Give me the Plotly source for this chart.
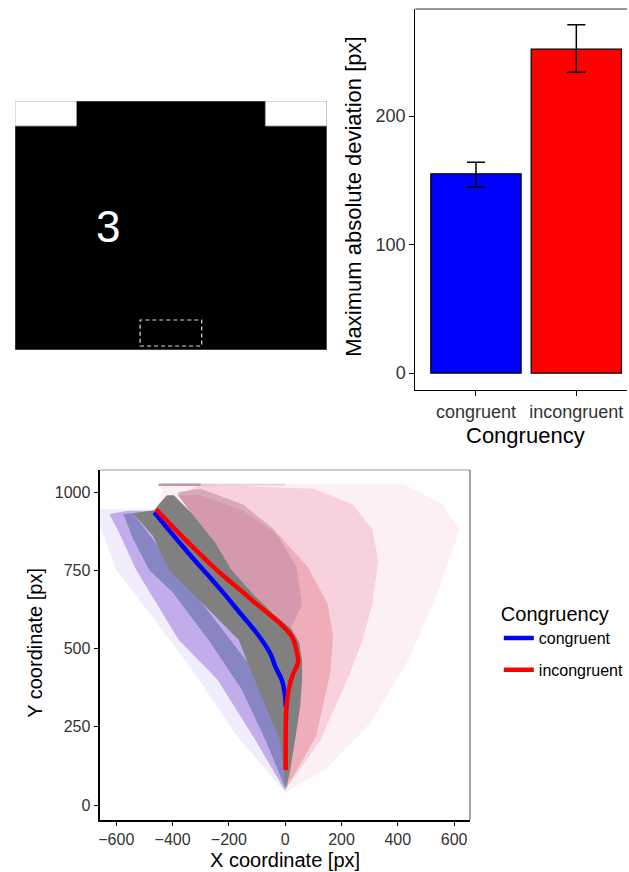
import plotly.graph_objects as go

FONT = "Liberation Sans, Arial, sans-serif"

# ---------------- Bar chart data ----------------
CATEGORIES = ["congruent", "incongruent"]
MAD_MEAN = [155, 252]
MAD_ERR_UP = [9, 19]
MAD_ERR_DOWN = [10, 18]
BAR_COLORS = ["#0000FF", "#FF0000"]

# ---------------- Mean trajectories ----------------
CONG_X = [-465, -410, -353, -305, -259, -230, -200, -159, -100, -53, -35, -12, 0, 2]
CONG_Y = [935, 875, 815, 765, 719, 689, 657, 612, 548, 484, 442, 399, 346, 314]
INC_X = [-459, -390, -318, -260, -200, -150, -115, -60, -18, 24, 41, 46, 40, 29, 12, 4, 2, 2]
INC_Y = [945, 880, 815, 765, 717, 680, 652, 612, 580, 538, 490, 460, 440, 421, 367, 304, 250, 112]

# ---------------- Individual-trajectory density envelopes ----------------
LEFT_FAINT_X = [0, -170, -330, -470, -600, -660, -660, -560, -465, 0]
LEFT_FAINT_Y = [40, 218, 431, 600, 750, 900, 945, 945, 945, 300]
RIGHT_FAINT_X = [0, 150, 300, 430, 530, 620, 560, 420, -440, -440, 0]
RIGHT_FAINT_Y = [40, 120, 260, 450, 650, 880, 960, 1025, 1028, 960, 400]
RIGHT_MID_X = [2, 126, 230, 275, 310, 330, 310, 240, 100, -300, -380, 0]
RIGHT_MID_Y = [50, 208, 421, 527, 644, 780, 880, 960, 1010, 1025, 990, 500]
LEFT_PURPLE_X = [0, -106, -240, -378, -529, -590, -625, -560, -465, 0]
LEFT_PURPLE_Y = [45, 208, 400, 527, 751, 870, 930, 940, 940, 300]
RIGHT_STRONG_X = [3, 60, 110, 160, 170, 150, 80, -20, -150, -300, -380, 0]
RIGHT_STRONG_Y = [55, 140, 220, 421, 540, 644, 760, 860, 940, 990, 990, 500]
MAUVE_X = [-380, -300, -150, -40, 40, 60, 20, -110, -190, -250, -330, -380]
MAUVE_Y = [1000, 1010, 960, 880, 760, 640, 565, 670, 750, 840, 930, 990]
SLATE_X = [2, -70, -153, -272, -400, -483, -540, -575, -541, 0]
SLATE_Y = [50, 208, 367, 527, 680, 751, 850, 930, 932, 300]
GRAY_X = [3, -18, -94, -165, -300, -412, -470, -541, -465, -445, -420, -395, -380,
          -330, -250, -190, -110, -40, 20, 50, 60, 60, 53, 35, 18, 3]
GRAY_Y = [52, 208, 367, 527, 650, 751, 860, 932, 942, 965, 990, 990, 975,
          930, 840, 750, 670, 610, 565, 520, 460, 400, 314, 208, 112, 52]
TOP_BAND_X = [-450, -300]
TOP_BAND_Y = [1023, 1023]
TOP_BAND2_X = [-300, 0]
TOP_BAND2_Y = [1023, 1023]

# ---------------- Stimulus screen (illustration) ----------------
SCREEN_W, SCREEN_H = 314, 249
BUTTON_W, BUTTON_H = 62, 25
START_BOX = [126, 4, 188, 30]   # x0, y0, x1, y1
STIM_DIGIT = "3"
STIM_POS = [94, 124]

BAR_TICKS = [0, 100, 200]
TRAJ_XTICKS = [-600, -400, -200, 0, 200, 400, 600]
TRAJ_YTICKS = [0, 250, 500, 750, 1000]

W, H = 629, 872


def px(x):
    return x / W


def py(y):
    return 1 - y / H


fig = go.Figure()

# Bars
fig.add_trace(go.Bar(
    x=CATEGORIES, y=MAD_MEAN, width=0.9,
    marker=dict(color=BAR_COLORS, line=dict(color="black", width=1.2)),
    error_y=dict(type="data", symmetric=False, array=MAD_ERR_UP, arrayminus=MAD_ERR_DOWN,
                 color="black", thickness=1.5, width=9),
    xaxis="x", yaxis="y", showlegend=False, hoverinfo="skip"))


def poly(xs, ys, color):
    fig.add_trace(go.Scatter(x=xs, y=ys, fill="toself", fillcolor=color, mode="none",
                             xaxis="x2", yaxis="y2", showlegend=False, hoverinfo="skip"))


poly(LEFT_FAINT_X, LEFT_FAINT_Y, "rgba(232,222,250,0.55)")
poly(RIGHT_FAINT_X, RIGHT_FAINT_Y, "rgba(252,228,236,0.55)")
poly(RIGHT_MID_X, RIGHT_MID_Y, "rgba(242,185,198,0.55)")
poly(LEFT_PURPLE_X, LEFT_PURPLE_Y, "rgba(168,138,225,0.65)")
poly(RIGHT_STRONG_X, RIGHT_STRONG_Y, "rgba(232,148,160,0.6)")
poly(MAUVE_X, MAUVE_Y, "rgba(195,140,165,0.6)")
poly(SLATE_X, SLATE_Y, "rgba(124,127,188,0.85)")
poly(GRAY_X, GRAY_Y, "rgb(128,128,128)")

fig.add_trace(go.Scatter(x=TOP_BAND_X, y=TOP_BAND_Y, mode="lines",
                         line=dict(color="rgba(175,110,140,0.7)", width=2.5),
                         xaxis="x2", yaxis="y2", showlegend=False, hoverinfo="skip"))
fig.add_trace(go.Scatter(x=TOP_BAND2_X, y=TOP_BAND2_Y, mode="lines",
                         line=dict(color="rgba(215,180,200,0.5)", width=2),
                         xaxis="x2", yaxis="y2", showlegend=False, hoverinfo="skip"))

# Mean curves
fig.add_trace(go.Scatter(x=CONG_X, y=CONG_Y, mode="lines", name="congruent",
                         line=dict(color="#0000FF", width=4.5, shape="spline"),
                         legendgroup="a", xaxis="x2", yaxis="y2"))
fig.add_trace(go.Scatter(x=INC_X, y=INC_Y, mode="lines", name="incongruent",
                         line=dict(color="#FF0000", width=4.5, shape="spline"),
                         legendgroup="b", xaxis="x2", yaxis="y2"))

tickfont_bar = dict(family=FONT, size=18, color="#333333")
tickfont_traj = dict(family=FONT, size=16, color="#333333")

shapes = []
shapes.append(dict(type="rect", xref="x3", yref="y3", x0=0, y0=0, x1=SCREEN_W, y1=SCREEN_H,
                   fillcolor="black", line=dict(color="#777777", width=1), layer="above"))
shapes.append(dict(type="rect", xref="x3", yref="y3", x0=0, y0=SCREEN_H - BUTTON_H, x1=BUTTON_W,
                   y1=SCREEN_H, fillcolor="white", line=dict(color="#999999", width=0.8), layer="above"))
shapes.append(dict(type="rect", xref="x3", yref="y3", x0=SCREEN_W - BUTTON_W, y0=SCREEN_H - BUTTON_H,
                   x1=SCREEN_W, y1=SCREEN_H, fillcolor="white", line=dict(color="#999999", width=0.8),
                   layer="above"))
shapes.append(dict(type="rect", xref="x3", yref="y3", x0=START_BOX[0], y0=START_BOX[1], x1=START_BOX[2],
                   y1=START_BOX[3], fillcolor="rgba(0,0,0,0)",
                   line=dict(color="#dddddd", width=1.2, dash="4px,3px"), layer="above"))
shapes.append(dict(type="line", xref="x2 domain", yref="y2 domain", x0=0, y0=1, x1=1, y1=1,
                   line=dict(color="#bbbbbb", width=1.5)))
shapes.append(dict(type="line", xref="x2 domain", yref="y2 domain", x0=1, y0=0, x1=1, y1=1,
                   line=dict(color="#888888", width=1.5)))
shapes.append(dict(type="line", xref="x domain", yref="y domain", x0=0, y0=1, x1=1, y1=1,
                   line=dict(color="#333333", width=1.2)))

annotations = [
    dict(text=STIM_DIGIT, x=STIM_POS[0], y=STIM_POS[1], xref="x3", yref="y3", showarrow=False,
         font=dict(family=FONT, size=44, color="white"), xanchor="center", yanchor="middle"),
    dict(text="Maximum absolute deviation [px]", x=px(353), y=py(197), xref="paper", yref="paper",
         textangle=-90, showarrow=False, font=dict(family=FONT, size=22, color="black"),
         xanchor="center", yanchor="middle"),
    dict(text="Congruency", x=px(527), y=py(435), xref="paper", yref="paper", showarrow=False,
         font=dict(family=FONT, size=22, color="black"), xanchor="center", yanchor="middle"),
    dict(text="Y coordinate [px]", x=px(33), y=py(643), xref="paper", yref="paper", textangle=-90,
         showarrow=False, font=dict(family=FONT, size=20, color="black"),
         xanchor="center", yanchor="middle"),
    dict(text="X coordinate [px]", x=px(285), y=py(860), xref="paper", yref="paper",
         showarrow=False, font=dict(family=FONT, size=20, color="black"),
         xanchor="center", yanchor="middle"),
]

fig.update_layout(
    width=W, height=H, margin=dict(l=0, r=0, t=0, b=0),
    paper_bgcolor="white", plot_bgcolor="white",
    font=dict(family=FONT),
    xaxis=dict(domain=[px(416), 1.0], range=[-0.604, 1.505], type="category",
               showline=True, linecolor="black", linewidth=1.2, ticks="outside", ticklen=5,
               tickcolor="black", tickwidth=1.2, tickfont=tickfont_bar, showgrid=False,
               zeroline=False, anchor="y", fixedrange=True),
    yaxis=dict(domain=[py(390), py(9)], range=[-13.2, 283.3], tickvals=BAR_TICKS,
               showline=True, linecolor="black", linewidth=1.2, ticks="outside", ticklen=5,
               tickcolor="black", tickwidth=1.2, tickfont=tickfont_bar, showgrid=False,
               zeroline=False, anchor="x"),
    xaxis2=dict(domain=[px(99), px(471)], range=[-656.5, 656.5], tickvals=TRAJ_XTICKS,
                showline=True, linecolor="black", linewidth=1.5, ticks="outside", ticklen=4,
                tickcolor="black", tickwidth=1.2, tickfont=tickfont_traj, showgrid=False,
                zeroline=False, anchor="y2"),
    yaxis2=dict(domain=[py(820), py(470)], range=[-47.9, 1070.3], tickvals=TRAJ_YTICKS,
                showline=True, linecolor="black", linewidth=1.5, ticks="outside", ticklen=5,
                tickcolor="black", tickwidth=1.2, tickfont=tickfont_traj, showgrid=False,
                zeroline=False, anchor="x2"),
    xaxis3=dict(domain=[px(13), px(327)], range=[0, SCREEN_W], visible=False, anchor="y3"),
    yaxis3=dict(domain=[py(350), py(101)], range=[0, SCREEN_H], visible=False, anchor="x3"),
    legend=dict(x=px(500), y=py(595), xanchor="left", yanchor="top",
                title=dict(text="Congruency", font=dict(family=FONT, size=20, color="black")),
                font=dict(family=FONT, size=16, color="black"),
                tracegroupgap=8, itemwidth=30, bgcolor="rgba(0,0,0,0)"),
    shapes=shapes,
    annotations=annotations,
)

fig.write_html("out.html", config={"displayModeBar": False},
               post_script="document.body.style.margin='0';document.body.style.overflow='hidden';")
